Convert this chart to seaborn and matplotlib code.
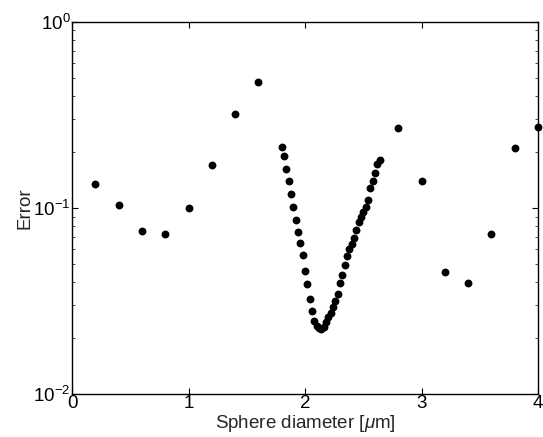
import matplotlib
matplotlib.use("Agg")
import matplotlib.pyplot as plt
import numpy as np
import pandas as pd
import seaborn as sns

# --- data: coarse scan (0.2 um steps) ---
coarse_d = [0.2, 0.4, 0.6, 0.8, 1.0, 1.2, 1.4, 1.6,
            2.8, 3.0, 3.2, 3.4, 3.6, 3.8, 4.0]
coarse_err = [0.135, 0.104, 0.075, 0.0725, 0.100, 0.170, 0.320, 0.476,
              0.269, 0.140, 0.0453, 0.0395, 0.0725, 0.210, 0.273]

# --- data: fine scan around the minimum (0.02 um steps) ---
fine_d = [1.80, 1.82, 1.84, 1.86, 1.88, 1.90, 1.92, 1.94, 1.96, 1.98,
          2.00, 2.02, 2.04, 2.06, 2.08, 2.10, 2.12, 2.14, 2.16, 2.18,
          2.20, 2.22, 2.24, 2.26, 2.28, 2.30, 2.32, 2.34, 2.36, 2.38,
          2.40, 2.42, 2.44, 2.46, 2.48, 2.50, 2.52, 2.54, 2.56, 2.58,
          2.60, 2.62, 2.64]
fine_err = [0.214, 0.190, 0.163, 0.140, 0.119, 0.101, 0.0862, 0.0746, 0.0646, 0.0559,
            0.0460, 0.0390, 0.0324, 0.0280, 0.0248, 0.0232, 0.0226, 0.0224, 0.0230, 0.0245,
            0.0258, 0.0274, 0.0294, 0.0315, 0.0345, 0.0394, 0.0438, 0.0495, 0.0550, 0.0600,
            0.0640, 0.0690, 0.0760, 0.0840, 0.0890, 0.0955, 0.1017, 0.110, 0.128, 0.140,
            0.154, 0.172, 0.182]

df = pd.DataFrame({
    "d": coarse_d + fine_d,
    "err": coarse_err + fine_err,
})

# --- style ---
sns.set_style("ticks")
plt.rcParams["font.family"] = ["Liberation Sans", "DejaVu Sans"]
plt.rcParams["mathtext.fontset"] = "custom"
plt.rcParams["mathtext.rm"] = "Liberation Sans"
plt.rcParams["mathtext.it"] = "Liberation Sans:italic"

fig = plt.figure(figsize=(5.43, 4.37), dpi=100)
ax = fig.add_axes([0.1326, 0.0984, 0.8582, 0.8513])

sns.scatterplot(data=df, x="d", y="err", ax=ax, color="black",
                s=32, edgecolor="black", linewidth=0, legend=False, clip_on=False)

ax.set_yscale("log")
ax.set_xlim(0, 4)
ax.set_ylim(1e-2, 1e0)
ax.set_xticks([0, 1, 2, 3, 4])
ax.set_xticklabels(["0", "1", "2", "3", "4"])
ax.set_yticks([1e-2, 1e-1, 1e0])
ax.set_yticklabels([r"$10^{-2}$", r"$10^{-1}$", r"$10^{0}$"])

for side in ["top", "right", "bottom", "left"]:
    ax.spines[side].set_visible(True)
    ax.spines[side].set_color("black")
    ax.spines[side].set_linewidth(1.0)

ax.tick_params(which="major", direction="in", length=4, width=0.8,
               top=True, right=True, labelsize=13.5, pad=1, colors="black")
ax.tick_params(which="minor", direction="in", length=2.5, width=0.6,
               top=False, right=True, left=True)

ax.set_xlabel(r"Sphere diameter [$\mu$m]", fontsize=13.5, labelpad=0.5)
ax.set_ylabel("Error", fontsize=13.5, labelpad=0)

fig.savefig("out.png", dpi=100, facecolor="white")
